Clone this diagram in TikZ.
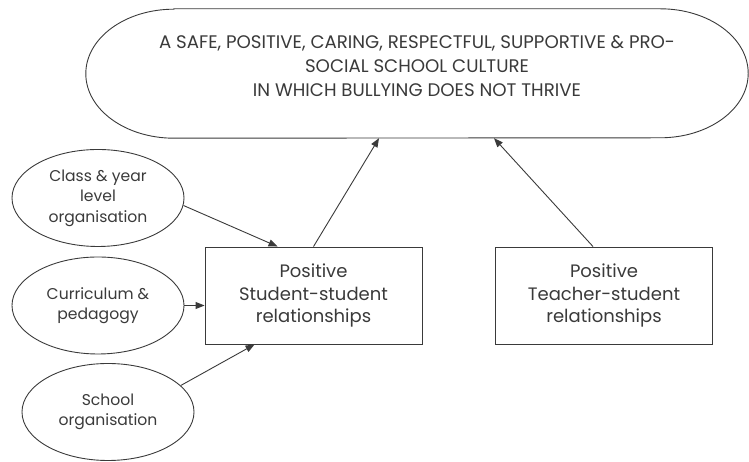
\documentclass[tikz,border=0pt]{standalone}
\usepackage{fontspec}
\setmainfont{Poppins}
\usetikzlibrary{arrows.meta,shapes.geometric}
\definecolor{ink}{HTML}{3A3A3A}
\begin{document}
\begin{tikzpicture}[x=1pt,y=1pt,
  oval/.style={ellipse,draw=ink,line width=0.9pt,minimum width=172pt,minimum height=97pt,
    inner sep=0pt,align=center,text=ink,font=\fontsize{15.6}{20.5}\selectfont},
  panel/.style={rectangle,draw=ink,line width=0.9pt,minimum width=217pt,minimum height=97pt,
    align=center,text=ink,font=\fontsize{18}{22.5}\selectfont},
  link/.style={draw=ink,line width=0.9pt,-{Triangle[length=9pt,width=7pt]}}]
\useasboundingbox (0,0) rectangle (749,462);

\node[minimum width=662pt,minimum height=129pt,align=center,text=ink,text depth=15pt,
  font=\fontsize{18.2}{24}\selectfont] (culture) at (417,388.5)
  {A SAFE, POSITIVE, CARING, RESPECTFUL, SUPPORTIVE \& PRO-\\
   SOCIAL SCHOOL CULTURE\\
   IN WHICH BULLYING DOES NOT THRIVE};
\draw[ink,line width=0.9pt] ([xshift=88pt]culture.north west) -- ([xshift=-88pt]culture.north east)
  arc[start angle=90,end angle=-90,x radius=88pt,y radius=64.5pt]
  -- ([xshift=88pt]culture.south west)
  arc[start angle=270,end angle=90,x radius=88pt,y radius=64.5pt] -- cycle;

\node[oval] (cls) at (98,264) {Class \& year\\level\\organisation};
\node[oval] (cur) at (98,156.5) {Curriculum \&\\pedagogy};
\node[oval] (sch) at (108,50) {School\\organisation};

\node[panel] (ssr) at (313.5,166.5) {Positive\\Student-student\\relationships};
\node[panel] (tsr) at (604,166.5) {Positive\\Teacher-student\\relationships};

\draw[link] (cls.-5) -- ([xshift=73pt]ssr.north west);
\draw[link] (cur.east) -- (cur.east -| ssr.west);
\draw[link] (sch.20) -- ([xshift=50pt]ssr.south west);
\draw[link] (ssr.north) -- ([xshift=-38pt]culture.south);
\draw[link] ([xshift=-11pt]tsr.north) -- ([xshift=77pt]culture.south);
\end{tikzpicture}
\end{document}
